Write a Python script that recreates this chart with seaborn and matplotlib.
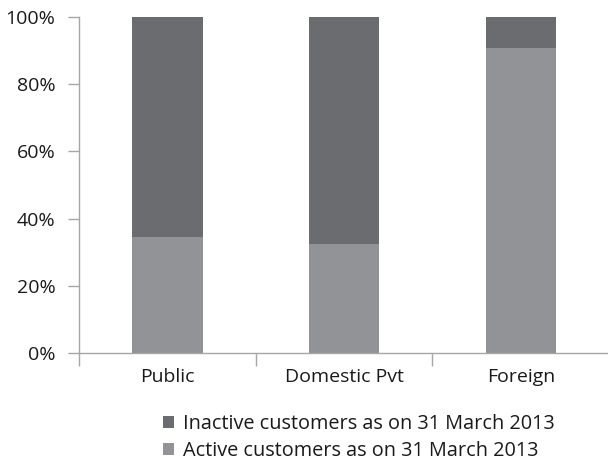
import matplotlib
matplotlib.use("Agg")
import matplotlib.pyplot as plt
import seaborn as sns
import pandas as pd
from matplotlib.patches import Patch
from matplotlib.ticker import FixedLocator, PercentFormatter

categories = ["Public", "Domestic Pvt", "Foreign"]
active = [34.6, 32.4, 90.7]
inactive = [65.4, 67.6, 9.3]
series_names = ["Inactive customers as on 31 March 2013",
                "Active customers as on 31 March 2013"]
y_ticks = [0, 20, 40, 60, 80, 100]

dark = "#6b6c70"
light = "#929396"
axis_gray = "#a6a6a6"
text_color = "#1a1a1a"

sns.set_theme(style="white")
plt.rcParams["font.family"] = ["Open Sans", "DejaVu Sans"]

df = pd.DataFrame({"category": categories, "active": active, "inactive": inactive})
df["total"] = df["active"] + df["inactive"]

fig = plt.figure(figsize=(6.08, 4.62), dpi=100)
ax = fig.add_axes([0.13, 0.236, 0.872, 0.727])

# stacked bars: full-height dark bar with the active share drawn over it
sns.barplot(data=df, x="category", y="total", color=dark, width=0.4,
            saturation=1, linewidth=0, ax=ax)
sns.barplot(data=df, x="category", y="active", color=light, width=0.4,
            saturation=1, linewidth=0, ax=ax)

ax.set_xlim(-0.5, 2.5)
ax.set_ylim(0, 100)
ax.set_xlabel("")
ax.set_ylabel("")
ax.yaxis.set_major_locator(FixedLocator(y_ticks))
ax.yaxis.set_major_formatter(PercentFormatter(decimals=0))

for side in ["top", "right"]:
    ax.spines[side].set_visible(False)
for side in ["left", "bottom"]:
    ax.spines[side].set_color(axis_gray)
    ax.spines[side].set_linewidth(1.0)

ax.tick_params(axis="y", which="major", left=True, length=8, width=1,
               color=axis_gray, labelsize=14, labelcolor=text_color, pad=9)
ax.tick_params(axis="x", which="major", length=0, labelsize=14,
               labelcolor=text_color, pad=11)
ax.xaxis.set_minor_locator(FixedLocator([-0.5, 0.5, 1.5]))
ax.tick_params(axis="x", which="minor", bottom=True, length=9, width=1,
               color=axis_gray)

handles = [Patch(facecolor=dark, edgecolor="none"),
           Patch(facecolor=light, edgecolor="none")]
fig.legend(handles, series_names, loc="upper left",
           bbox_to_anchor=(0.252, 0.126), bbox_transform=fig.transFigure,
           frameon=False, fontsize=14.3, handlelength=0.55, handleheight=0.55,
           handletextpad=0.45, labelspacing=0.38, borderpad=0,
           labelcolor=text_color)

fig.savefig("out.png", dpi=100)
